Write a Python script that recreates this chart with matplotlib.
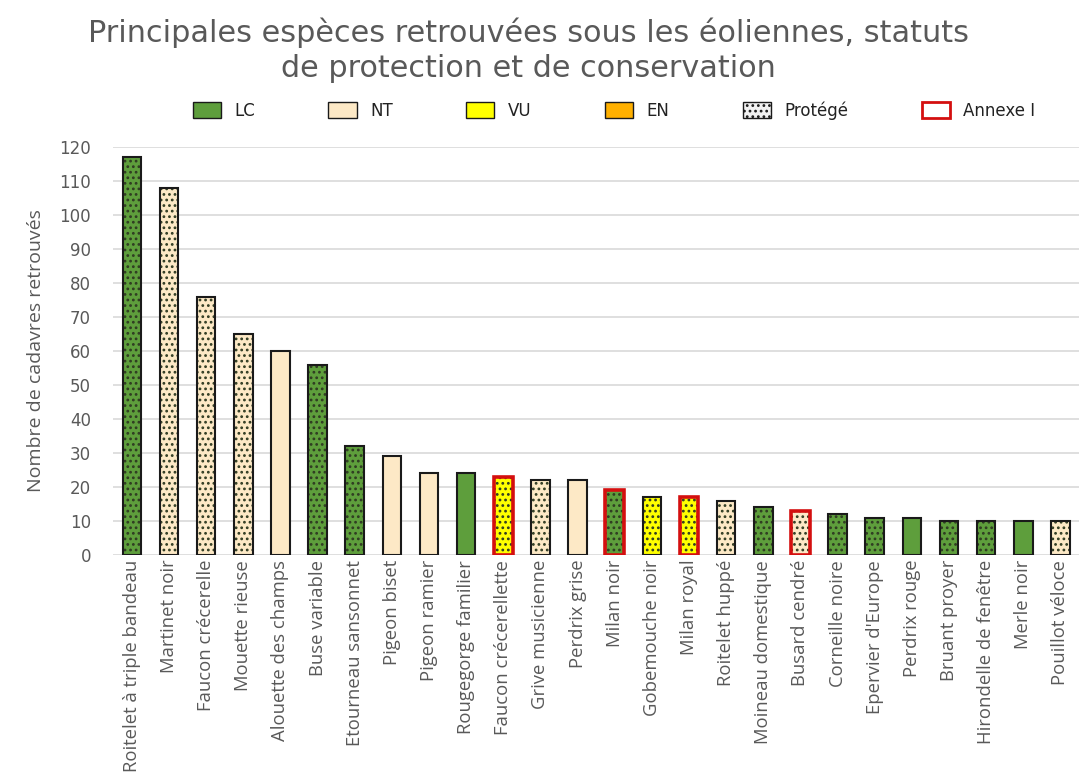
import matplotlib.pyplot as plt
from matplotlib.patches import Patch

plt.rcParams['font.family'] = ['Open Sans', 'DejaVu Sans']
plt.rcParams['hatch.linewidth'] = 1.2

especes = ["Roitelet à triple bandeau", "Martinet noir", "Faucon crécerelle",
           "Mouette rieuse", "Alouette des champs", "Buse variable",
           "Etourneau sansonnet", "Pigeon biset", "Pigeon ramier",
           "Rougegorge familier", "Faucon crécerellette", "Grive musicienne",
           "Perdrix grise", "Milan noir", "Gobemouche noir", "Milan royal",
           "Roitelet huppé", "Moineau domestique", "Busard cendré",
           "Corneille noire", "Epervier d'Europe", "Perdrix rouge",
           "Bruant proyer", "Hirondelle de fenêtre", "Merle noir",
           "Pouillot véloce"]
cadavres = [117, 108, 76, 65, 60, 56, 32, 29, 24, 24, 23, 22, 22, 19, 17, 17,
            16, 14, 13, 12, 11, 11, 10, 10, 10, 10]
statut = ["LC", "NT", "NT", "NT", "NT", "LC", "LC", "NT", "NT", "LC", "VU", "NT",
          "NT", "LC", "VU", "VU", "NT", "LC", "NT", "LC", "LC", "LC", "LC", "LC",
          "LC", "NT"]
protege = [1, 1, 1, 1, 0, 1, 1, 0, 0, 0, 1, 1, 0, 1, 1, 1, 1, 1, 1, 1, 1, 0,
           1, 1, 0, 1]
annexe1 = [0, 0, 0, 0, 0, 0, 0, 0, 0, 0, 1, 0, 0, 1, 0, 1, 0, 0, 1, 0, 0, 0,
           0, 0, 0, 0]

couleurs = {"LC": "#5e9e3c", "NT": "#fde9c6", "VU": "#ffff00", "EN": "#ffb000"}
gris = "#595959"
large = ['DejaVu Sans']

fig = plt.figure(figsize=(10.79, 7.74), dpi=100)
ax = fig.add_axes([0.105, 0.283, 0.895, 0.527])

x = list(range(len(especes)))
w = 0.5
fc = [couleurs[s] for s in statut]
ax.bar(x, cadavres, width=w, color=fc, linewidth=0, zorder=2)
for i in x:
    if protege[i]:
        ax.bar(i, cadavres[i], width=w, fill=False, hatch='...',
               edgecolor='#2f3b22', linewidth=0, zorder=3)
for i in x:
    if annexe1[i]:
        ax.bar(i, cadavres[i], width=w, fill=False, edgecolor='#d40f0f',
               linewidth=2.6, zorder=4)
    else:
        ax.bar(i, cadavres[i], width=w, fill=False, edgecolor='#1a1a1a',
               linewidth=1.5, zorder=4)

ax.set_xlim(-0.5, len(especes) - 0.5)
ax.set_ylim(0, 120)
ax.set_yticks(range(0, 121, 10))
ax.grid(axis='y', color='#d9d9d9', linewidth=1.2, zorder=0)
ax.set_axisbelow(True)
for s in ax.spines.values():
    s.set_visible(False)
ax.tick_params(axis='both', length=0, colors=gris)
ax.tick_params(axis='y', pad=16)
for t in ax.get_yticklabels():
    t.set_fontfamily(large)
    t.set_fontsize(12)
ax.set_xticks(x)
ax.set_xticklabels(especes, rotation=90, fontsize=13.3, color=gris)
ax.set_ylabel("Nombre de cadavres retrouvés", fontsize=14, color=gris,
              labelpad=10)

fig.text(0.49, 0.958, "Principales espèces retrouvées sous les éoliennes, statuts",
         ha='center', va='center', fontsize=21.8, color=gris, family=large)
fig.text(0.49, 0.912, "de protection et de conservation",
         ha='center', va='center', fontsize=21.8, color=gris, family=large)

poignees = [
    Patch(facecolor=couleurs["LC"], edgecolor='#1a1a1a', label="LC"),
    Patch(facecolor=couleurs["NT"], edgecolor='#1a1a1a', label="NT"),
    Patch(facecolor=couleurs["VU"], edgecolor='#1a1a1a', label="VU"),
    Patch(facecolor=couleurs["EN"], edgecolor='#1a1a1a', label="EN"),
    Patch(facecolor='#f2f2f2', edgecolor='#1a1a1a', hatch='...', label="Protégé"),
    Patch(facecolor='white', edgecolor='#d40f0f', linewidth=2, label="Annexe I"),
]
fig.legend(handles=poignees, loc='center', bbox_to_anchor=(0.569, 0.857), ncol=6,
           frameon=False, prop={'family': large, 'size': 12}, handlelength=1.7,
           handleheight=1.1, columnspacing=4.4, handletextpad=0.8,
           labelcolor='#222222')

fig.savefig("out.png", dpi=100)
